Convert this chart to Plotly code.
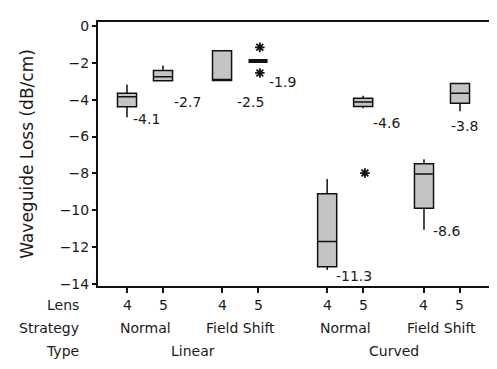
import plotly.graph_objects as go

# ---- data ----
lens = ["4", "5", "4", "5", "4", "5", "4", "5"]
strategy = ["Normal", "Field Shift", "Normal", "Field Shift"]
ctype = ["Linear", "Curved"]
q1 = [-4.38, -2.97, -2.96, -1.90, -13.06, -4.37, -9.89, -4.19]
median = [-3.84, -2.75, -2.96, -1.90, -11.69, -4.13, -8.03, -3.65]
q3 = [-3.65, -2.42, -1.35, -1.90, -9.10, -3.92, -7.48, -3.12]
lowerfence = [-4.95, -2.97, -2.96, -1.90, -13.24, -4.47, -11.05, -4.63]
upperfence = [-3.17, -2.14, -1.35, -1.90, -8.30, -3.79, -7.23, -3.12]
means = [-4.1, -2.7, -2.5, -1.9, -11.3, -4.6, -8.6, -3.8]
outlier_box = [3, 3, 5]
outlier_y = [-1.16, -2.55, -7.98]

# ---- layout helpers ----
xpos = [0, 1, 2.64, 3.64, 5.56, 6.56, 8.25, 9.25]
label_dx = [4, 9, 13, 9, 7, 8, 7, -11]
label_dy = [1.5, 21, 21, 21, 6, 15, 1.5, 15]
FONT = "DejaVu Sans, Verdana, sans-serif"
TXT = "#1a1a1a"

fig = go.Figure()
for i in range(len(q1)):
    lw = 4 if q1[i] == q3[i] else 1.5
    fig.add_trace(go.Box(
        x=[xpos[i]], q1=[q1[i]], median=[median[i]], q3=[q3[i]],
        lowerfence=[lowerfence[i]], upperfence=[upperfence[i]],
        width=0.53, whiskerwidth=0, boxpoints=False,
        fillcolor="#c4c4c4", line=dict(color="#111111", width=lw),
        showlegend=False,
    ))

fig.add_trace(go.Scatter(
    x=[xpos[b] + 0.05 for b in outlier_box], y=outlier_y, mode="markers",
    marker=dict(symbol="asterisk-open", size=8, color="#111111",
                line=dict(color="#111111", width=1.8)),
    showlegend=False,
))

ann = []
for i, m in enumerate(means):
    ann.append(dict(x=xpos[i], y=lowerfence[i], xref="x", yref="y",
                    text=f"{m:.1f}", showarrow=False, xanchor="left", yanchor="middle",
                    xshift=label_dx[i], yshift=-label_dy[i],
                    font=dict(family=FONT, size=14, color=TXT)))
# row 1: lens
for i, l in enumerate(lens):
    ann.append(dict(x=xpos[i], y=0, xref="x", yref="paper", text=l, showarrow=False,
                    xanchor="center", yanchor="middle", yshift=-19,
                    font=dict(family=FONT, size=14, color=TXT)))
# row 2: strategy
for j, s in enumerate(strategy):
    xc = (xpos[2 * j] + xpos[2 * j + 1]) / 2
    ann.append(dict(x=xc, y=0, xref="x", yref="paper", text=s, showarrow=False,
                    xanchor="center", yanchor="middle", yshift=-42,
                    font=dict(family=FONT, size=14, color=TXT)))
# row 3: type
for k, t in enumerate(ctype):
    xc = (xpos[4 * k] + xpos[4 * k + 3]) / 2
    ann.append(dict(x=xc, y=0, xref="x", yref="paper", text=t, showarrow=False,
                    xanchor="center", yanchor="middle", yshift=-65,
                    font=dict(family=FONT, size=14, color=TXT)))
# row titles
for name, dy in [("Lens", -19), ("Strategy", -42), ("Type", -65)]:
    ann.append(dict(x=0, y=0, xref="paper", yref="paper", text=name, showarrow=False,
                    xanchor="right", yanchor="middle", xshift=-17, yshift=dy,
                    font=dict(family=FONT, size=14, color=TXT)))

fig.update_layout(
    width=497, height=369,
    margin=dict(l=90, r=16, t=10, b=91),
    paper_bgcolor="white", plot_bgcolor="white",
    annotations=ann,
    xaxis=dict(range=[-0.806, 10.056], tickvals=xpos, showticklabels=False,
               ticks="outside", ticklen=5, tickwidth=1.5, tickcolor="#111111",
               showline=True, linecolor="#111111", linewidth=2, mirror=True,
               showgrid=False, zeroline=False),
    yaxis=dict(range=[-14.107, 0.214], tickvals=[0, -2, -4, -6, -8, -10, -12, -14],
               ticks="outside", ticklen=4, tickwidth=1.5, tickcolor="#111111",
               showline=True, linecolor="#111111", linewidth=2, mirror=True,
               showgrid=False, zeroline=False,
               tickfont=dict(family=FONT, size=14, color=TXT),
               title=dict(text="Waveguide Loss (dB/cm)", standoff=22,
                          font=dict(family=FONT, size=17, color=TXT))),
)

fig.write_html("out.html")
